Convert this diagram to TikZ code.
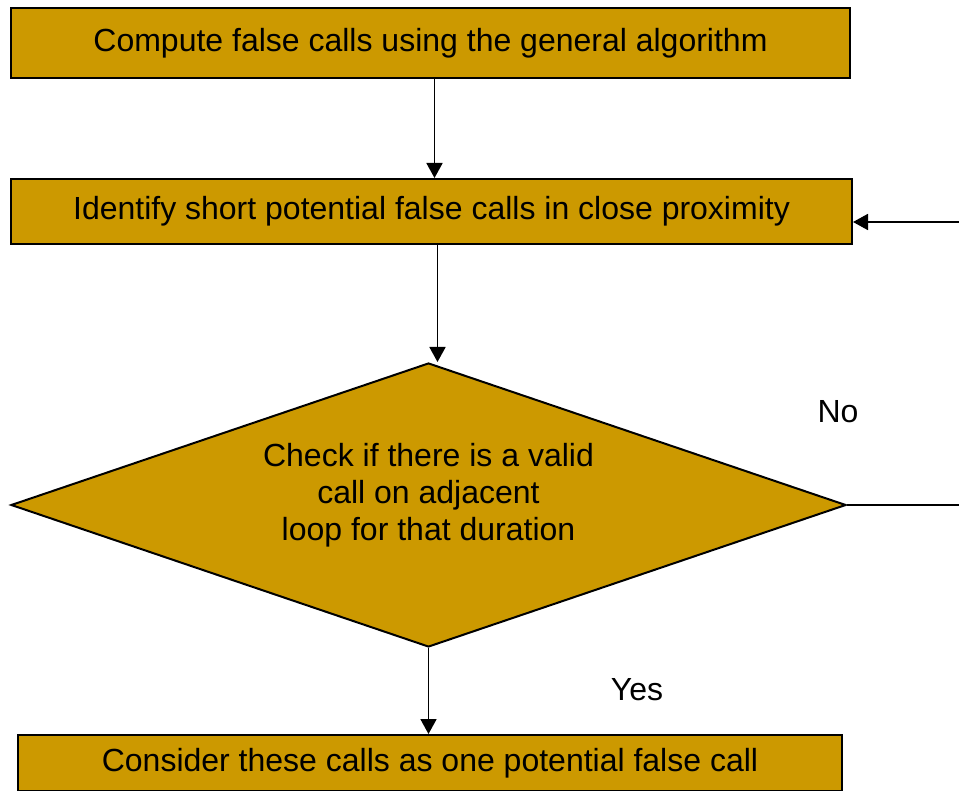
\documentclass[tikz,border=0pt]{standalone}
\usepackage{fontspec}
\setmainfont{Liberation Sans}
\usetikzlibrary{arrows.meta,shapes.geometric}
\definecolor{BoxGold}{HTML}{CC9900}
\tikzset{
    stepbox/.style={draw=black, line width=2pt, fill=BoxGold, inner sep=0pt},
    checkbox/.style={draw=black, line width=2pt, fill=BoxGold, shape=diamond, aspect=2.94,
                     minimum width=835pt, minimum height=284pt, inner sep=0pt, align=center},
    flowarrow/.style={line width=1.8pt, black, arrows = {-Triangle[length=15pt,width=16pt]}}
}
\begin{document}
\begin{tikzpicture}[x=1pt,y=-1pt]
                    \useasboundingbox (0,0) rectangle (959,791);
                    \fontsize{32}{37}\selectfont
%                    Boxes
                    \node[stepbox, minimum width=839pt, minimum height=70pt] (compute) at (430.5,43) {Compute false calls using the general algorithm};
                    \node[stepbox, minimum width=841pt, minimum height=65pt] (identify) at (431.5,211.5) {Identify short potential false calls in close proximity};
                    \node[checkbox] (check) at (428.5,505) {};
                    \node[align=center, inner sep=0pt] (checktext) at (428.5,495) {Check if there is a valid\\call on adjacent\\loop for that duration};
                    \node[stepbox, minimum width=824pt, minimum height=56pt] (consider) at (430,763) {Consider these calls as one potential false call};

%                    Labels
                    \node (no) at (838,412) {No};
                    \node (yes) at (637,690) {Yes};

%                    Loop back
                    \coordinate (loopout) at (959,505);
                    \coordinate (loopin) at (959,222);

                    \draw[flowarrow] ([xshift=4pt]compute.south) -- ([xshift=4pt]compute.south |- identify.north);
                    \draw[flowarrow] ([xshift=6pt]identify.south) -- ([xshift=6pt]identify.south |- check.north);
                    \draw[flowarrow] (check.south) -- (check.south |- consider.north);
                    \draw[line width=1.8pt] (check.east) -- (loopout);
                    \draw[flowarrow] (loopin) -- (identify.east |- loopin);

                \end{tikzpicture}
\end{document}
